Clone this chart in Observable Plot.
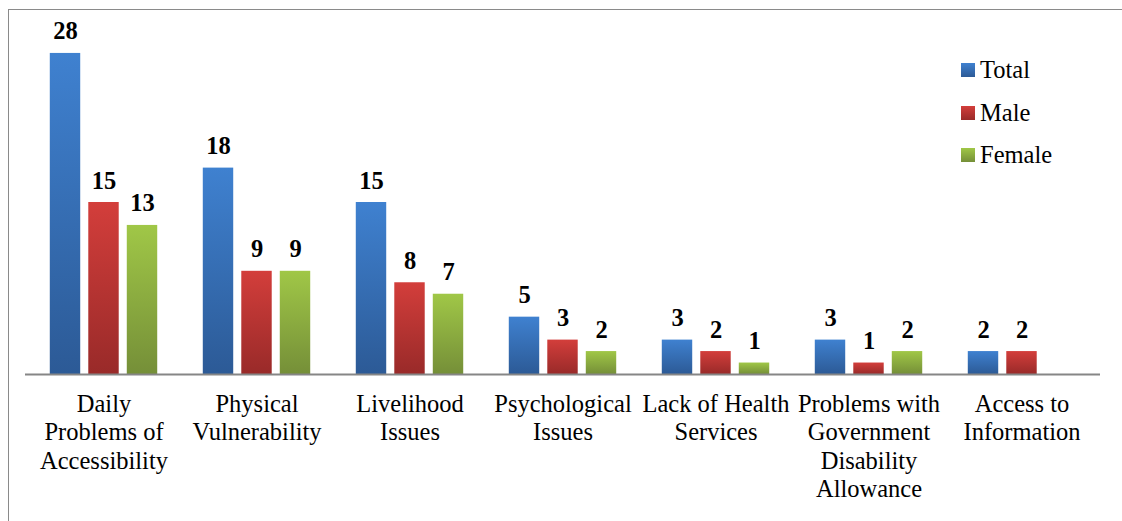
<!DOCTYPE html>
<html>
<head>
<meta charset="utf-8">
<script src="https://cdn.jsdelivr.net/npm/d3@7"></script>
<script src="https://cdn.jsdelivr.net/npm/@observablehq/plot@0.6"></script>
<style>
  html, body { margin: 0; padding: 0; background: #fff; font-family: 'Liberation Serif', serif; }
  #wrap { position: relative; width: 1122px; height: 521px; overflow: hidden; font-family: 'Liberation Serif', serif; }
  #wrap svg text, #wrap svg tspan, #legend, #legend span { font-family: 'Liberation Serif', serif !important; }
  #frame { position: absolute; left: 8px; top: 9px; width: 1130px; height: 530px; border: 1.5px solid #8a8a8a; box-sizing: border-box; pointer-events: none; }
  #legend { position: absolute; left: 961px; top: 49px; font-size: 24.5px; color: #000; }
  #legend .item { display: flex; align-items: center; height: 42.5px; }
  #legend .sw { width: 14px; height: 14px; margin-right: 5px; }
</style>
</head>
<body>
<div id="wrap">
  <div id="chart"></div>
  <div id="frame"></div>
  <div id="legend" style="font-family: 'Liberation Serif', serif;"></div>
</div>
<script>
const categories = [
  "Daily Problems of Accessibility",
  "Physical Vulnerability",
  "Livelihood Issues",
  "Psychological Issues",
  "Lack of Health Services",
  "Problems with Government Disability Allowance",
  "Access to Information"
];
const categoryLines = [
  ["Daily", "Problems of", "Accessibility"],
  ["Physical", "Vulnerability"],
  ["Livelihood", "Issues"],
  ["Psychological", "Issues"],
  ["Lack of Health", "Services"],
  ["Problems with", "Government", "Disability", "Allowance"],
  ["Access to", "Information"]
];
const series = ["Total", "Male", "Female"];
const totalValues  = [28, 18, 15, 5, 3, 3, 2];
const maleValues   = [15, 9, 8, 3, 2, 1, 2];
const femaleValues = [13, 9, 7, 2, 1, 2, null];

const FONT = "Liberation Serif";
const grads = [
  ["gTotal", "#3f81d0", "#2c5a96"],
  ["gMale", "#d33e3b", "#992a29"],
  ["gFemale", "#a0c747", "#758f38"]
];

const seriesData = [totalValues, maleValues, femaleValues].map(vals =>
  categories.map((c, i) => ({category: c, value: vals[i]})).filter(d => d.value != null)
);
const labelData = categories.map((c, i) => ({category: c, text: categoryLines[i].join("\n")}));

const band = 1075 / categories.length;
const groupW = 115.5, step = groupW / 3, barW = 31;
const start = (band - groupW) / 2 + (step - barW) / 2;
const barInsets = series.map((s, j) => {
  const l = start + j * step;
  return {insetLeft: l, insetRight: band - l - barW};
});
const labelDx = series.map((s, j) => (j - 1) * step);

const marks = [];
series.forEach((s, j) => {
  marks.push(Plot.barY(seriesData[j], {x: "category", y: "value", fill: `url(#${grads[j][0]})`, ...barInsets[j], style: {filter: "url(#shadow)"}}));
});
marks.push(Plot.ruleY([0], {stroke: "#868686", strokeWidth: 2}));
series.forEach((s, j) => {
  marks.push(Plot.text(seriesData[j], {x: "category", y: "value", text: d => String(d.value), dx: labelDx[j], lineAnchor: "bottom", dy: -14, fontSize: 24.5, fontWeight: "bold", fontFamily: FONT, fill: "#000"}));
});
marks.push(Plot.text(labelData, {x: "category", frameAnchor: "bottom", text: "text", lineAnchor: "top", dy: 17, fontSize: 24.5, lineHeight: 1.165, fontFamily: FONT, fill: "#000"}));

const chart = Plot.plot({
  width: 1122,
  height: 521,
  marginLeft: 25,
  marginRight: 22,
  marginTop: 30,
  marginBottom: 147,
  style: {fontFamily: "'Liberation Serif', serif", background: "transparent", overflow: "visible"},
  x: {domain: categories, padding: 0, axis: null, label: null},
  y: {domain: [0, 30], axis: null, label: null},
  marks
});

const ns = "http://www.w3.org/2000/svg";
const defs = document.createElementNS(ns, "defs");
for (const [id, top, bot] of grads) {
  const g = document.createElementNS(ns, "linearGradient");
  g.setAttribute("id", id);
  g.setAttribute("x1", "0"); g.setAttribute("y1", "0");
  g.setAttribute("x2", "0"); g.setAttribute("y2", "1");
  const s1 = document.createElementNS(ns, "stop"); s1.setAttribute("offset", "0"); s1.setAttribute("stop-color", top);
  const s2 = document.createElementNS(ns, "stop"); s2.setAttribute("offset", "1"); s2.setAttribute("stop-color", bot);
  g.appendChild(s1); g.appendChild(s2);
  defs.appendChild(g);
}
const f = document.createElementNS(ns, "filter");
f.setAttribute("id", "shadow");
f.setAttribute("x", "-20%"); f.setAttribute("y", "-5%"); f.setAttribute("width", "150%"); f.setAttribute("height", "115%");
const ds = document.createElementNS(ns, "feDropShadow");
ds.setAttribute("dx", "2"); ds.setAttribute("dy", "2"); ds.setAttribute("stdDeviation", "1.5"); ds.setAttribute("flood-color", "#000"); ds.setAttribute("flood-opacity", "0.14");
f.appendChild(ds);
defs.appendChild(f);
chart.insertBefore(defs, chart.firstChild);

document.getElementById("chart").appendChild(chart);

const legend = document.getElementById("legend");
series.forEach((s, i) => {
  const item = document.createElement("div");
  item.className = "item";
  const sw = document.createElement("div");
  sw.className = "sw";
  sw.style.background = `linear-gradient(${grads[i][1]}, ${grads[i][2]})`;
  const t = document.createElement("span");
  t.textContent = s;
  item.appendChild(sw); item.appendChild(t);
  legend.appendChild(item);
});
</script>
</body>
</html>
